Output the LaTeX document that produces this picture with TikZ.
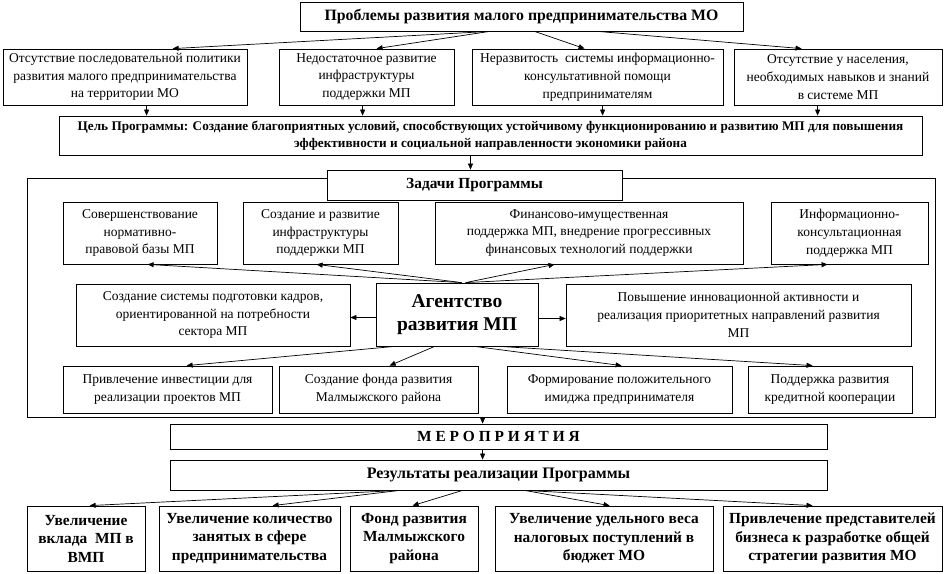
\documentclass[tikz,border=0pt]{standalone}
\usepackage{fontspec}
\setmainfont{Liberation Serif}
\usetikzlibrary{arrows.meta,calc}
\begin{document}
\begin{tikzpicture}[x=1pt,y=-1pt,
  box/.style={draw, line width=0.8pt, fill=white, inner sep=0pt, align=center,
    font=\fontsize{13.5}{17.8}\selectfont},
  bbox/.style={box, font=\bfseries\fontsize{15.4}{18.5}\selectfont},
  arr/.style={-{Triangle[length=6pt,width=5pt]}, line width=0.7pt}]
\useasboundingbox (0,0) rectangle (945,573);
% top
\node[bbox, minimum width=443pt, minimum height=29pt, font=\bfseries\fontsize{15.8}{18.5}\selectfont] (top) at (521.5,16.5) {Проблемы развития малого предпринимательства МО};
\node[box, minimum width=244pt, minimum height=56pt] (P1) at (125,77) {Отсутствие последовательной политики\\развития малого предпринимательства\\на территории МО};
\node[box, minimum width=175pt, minimum height=56pt] (P2) at (366.5,77) {Недостаточное развитие\\инфраструктуры\\поддержки МП};
\node[box, minimum width=251pt, minimum height=56pt] (P3) at (597.5,77) {Неразвитость\ \ системы информационно-\\консультативной помощи\\предпринимателям};
\node[box, minimum width=208pt, minimum height=56pt] (P4) at (838,77) {Отсутствие у населения,\\необходимых навыков и знаний\\в системе МП};
\node[bbox, minimum width=863pt, minimum height=39pt, font=\bfseries\fontsize{13.2}{17}\selectfont] (goal) at (490.5,135.5) {Цель Программы: Создание благоприятных условий, способствующих устойчивому функционированию и развитию МП для повышения\\эффективности и социальной направленности экономики района};
% outer frame
\node[draw, line width=0.8pt, inner sep=0pt, minimum width=908pt, minimum height=239pt] (outer) at (481,297.5) {};
\node[bbox, minimum width=295pt, minimum height=30pt] (zad) at (474.5,185) {Задачи Программы};
\node[box, minimum width=154pt, minimum height=62pt] (T1) at (140,233) {Совершенствование\\нормативно-\\правовой базы МП};
\node[box, minimum width=155pt, minimum height=62pt] (T2) at (320.5,233) {Создание и развитие\\инфраструктуры\\поддержки МП};
\node[box, minimum width=308pt, minimum height=62pt] (T3) at (589,233) {Финансово-имущественная\\поддержка МП, внедрение прогрессивных\\финансовых технологий поддержки};
\node[box, minimum width=157pt, minimum height=62pt] (T4) at (849.5,233) {Информационно-\\консультационная\\поддержка МП};
\node[box, minimum width=274pt, minimum height=62pt] (M1) at (213,315) {Создание системы подготовки кадров,\\ориентированной на потребности\\сектора МП};
\node[bbox, minimum width=162pt, minimum height=63pt, font=\bfseries\fontsize{19.5}{23}\selectfont] (AG) at (457,314.5) {Агентство\\развития МП};
\node[box, minimum width=345pt, minimum height=62pt] (M3) at (738.5,315) {Повышение инновационной активности и\\реализация приоритетных направлений развития\\МП};
\node[box, minimum width=209pt, minimum height=47pt] (B1) at (167.5,389.5) {Привлечение инвестиции для\\реализации проектов МП};
\node[box, minimum width=199pt, minimum height=47pt] (B2) at (378.5,389.5) {Создание фонда развития\\Малмыжского района};
\node[box, minimum width=225pt, minimum height=47pt] (B3) at (619.5,389.5) {Формирование положительного\\имиджа предпринимателя};
\node[box, minimum width=164pt, minimum height=47pt] (B4) at (830,389.5) {Поддержка развития\\кредитной кооперации};
% lower
\node[bbox, minimum width=657pt, minimum height=25pt] (MER) at (498.5,436.5) {М\ Е\ Р\ О\ П\ Р\ И\ Я\ Т\ И\ Я};
\node[bbox, minimum width=657pt, minimum height=30pt, font=\bfseries\fontsize{16}{18.5}\selectfont] (RES) at (498.5,475) {Результаты реализации Программы};
\node[bbox, minimum width=118pt, minimum height=65pt] (R1) at (86,538.5) {Увеличение\\вклада\ \ МП в\\ВМП};
\node[bbox, minimum width=181pt, minimum height=65pt] (R2) at (249.5,538.5) {Увеличение количество\\занятых в сфере\\предпринимательства};
\node[bbox, minimum width=128pt, minimum height=65pt] (R3) at (414,538.5) {Фонд развития\\Малмыжского\\района};
\node[bbox, minimum width=218pt, minimum height=65pt] (R4) at (604,538.5) {Увеличение удельного веса\\налоговых поступлений в\\бюджет МО};
\node[bbox, minimum width=219pt, minimum height=65pt] (R5) at (832.5,538.5) {Привлечение представителей\\бизнеса к разработке общей\\стратегии развития МО};
% arrows top -> problems
\draw[arr] ($(top.south west)+(190,0)$) -- ($(P1.north west)+(170,0)$);
\draw[arr] ($(top.south west)+(190,0)$) -- ($(P2.north west)+(98,0)$);
\draw[arr] ($(top.south west)+(235,0)$) -- ($(P3.north west)+(113,0)$);
\draw[arr] ($(top.south west)+(298,0)$) -- ($(P4.north west)+(68,0)$);
% problems -> goal
\coordinate (p1o) at ($(P1.south west)+(144,0)$);
\coordinate (p2o) at ($(P2.south west)+(84,0)$);
\coordinate (p3o) at ($(P3.south west)+(131,0)$);
\coordinate (p4o) at ($(P4.south west)+(84,0)$);
\draw[arr] (p1o) -- (p1o |- goal.north);
\draw[arr] (p2o) -- (p2o |- goal.north);
\draw[arr] (p3o) -- (p3o |- goal.north);
\draw[arr] (p4o) -- (p4o |- goal.north);
% goal -> tasks
\coordinate (g1) at ($(zad.north)+(-4,0)$);
\draw[arr] (g1 |- goal.south) -- (g1);
% agency -> tasks
\draw[arr] ($(AG.north west)+(86,0)$) -- ($(T1.south west)+(85,0)$);
\draw[arr] ($(AG.north west)+(86,0)$) -- ($(T2.south west)+(74,0)$);
\draw[arr] ($(AG.north west)+(90,0)$) -- ($(T3.south west)+(120,0)$);
\draw[arr] ($(AG.north west)+(90,0)$) -- ($(T4.south west)+(57,0)$);
\coordinate (agl) at ($(AG.west)+(0,3)$);
\coordinate (agr) at ($(AG.east)+(0,4)$);
\draw[arr] (agl) -- (agl -| M1.east);
\draw[arr] (agr) -- (agr -| M3.west);
\draw[arr] ($(AG.south west)+(19,0)$) -- ($(B1.north west)+(124,0)$);
\draw[arr] ($(AG.south west)+(59,0)$) -- ($(B2.north west)+(111,0)$);
\draw[arr] ($(AG.south west)+(99,0)$) -- ($(B3.north west)+(115,0)$);
\draw[arr] ($(AG.south west)+(124,0)$) -- ($(B4.north west)+(65,0)$);
% outer -> MER -> RES
\coordinate (m1) at ($(MER.north west)+(313,0)$);
\draw[arr] (m1 |- outer.south) -- (m1);
\coordinate (m2) at ($(RES.north west)+(313,0)$);
\draw[arr] (m2 |- MER.south) -- (m2);
% RES -> results
\draw[arr] ($(RES.south west)+(230,0)$) -- ($(R1.north west)+(63,0)$);
\draw[arr] ($(RES.south west)+(230,0)$) -- ($(R2.north west)+(114,0)$);
\draw[arr] ($(RES.south west)+(293,0)$) -- ($(R3.north west)+(63,0)$);
\draw[arr] ($(RES.south west)+(355,0)$) -- ($(R4.north west)+(115,0)$);
\draw[arr] ($(RES.south west)+(355,0)$) -- ($(R5.north west)+(90,0)$);
\end{tikzpicture}
\end{document}
